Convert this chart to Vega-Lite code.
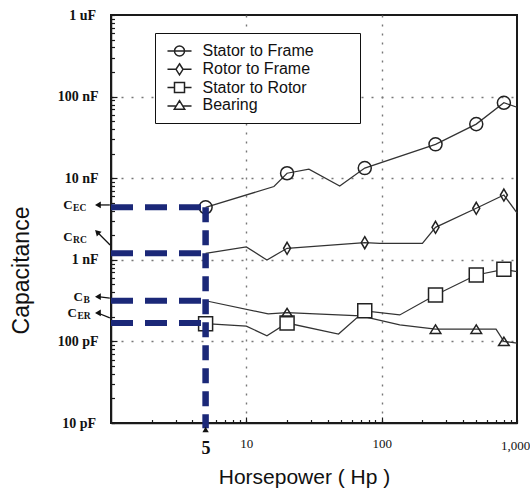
{
  "$schema": "https://vega.github.io/schema/vega-lite/v6.json",
  "width": 406,
  "height": 408,
  "autosize": {"type": "none"},
  "padding": {"left": 111, "top": 15, "right": 13, "bottom": 66},
  "background": "white",
  "config": {
    "view": {"stroke": "#1a1a1a", "strokeWidth": 2},
    "axis": {
      "domainColor": "#1a1a1a",
      "domainWidth": 1.5,
      "tickColor": "#1a1a1a",
      "tickWidth": 1.2,
      "labelColor": "#111111",
      "titleColor": "#111111",
      "gridColor": "#777777",
      "gridWidth": 1.4
    }
  },
  "resolve": {"scale": {"shape": "independent"}, "legend": {"shape": "independent"}},
  "datasets": {
    "series": [
      {"series": "Stator to Frame", "hp": 5, "pF": 4400, "m": 1},
      {"series": "Stator to Frame", "hp": 16, "pF": 7900, "m": 0},
      {"series": "Stator to Frame", "hp": 20, "pF": 11500, "m": 1},
      {"series": "Stator to Frame", "hp": 29, "pF": 12900, "m": 0},
      {"series": "Stator to Frame", "hp": 49, "pF": 8000, "m": 0},
      {"series": "Stator to Frame", "hp": 75, "pF": 13300, "m": 1},
      {"series": "Stator to Frame", "hp": 250, "pF": 26000, "m": 1},
      {"series": "Stator to Frame", "hp": 500, "pF": 46000, "m": 1},
      {"series": "Stator to Frame", "hp": 800, "pF": 84000, "m": 1},
      {"series": "Stator to Frame", "hp": 1000, "pF": 74000, "m": 0},
      {"series": "Rotor to Frame", "hp": 5, "pF": 1200, "m": 0},
      {"series": "Rotor to Frame", "hp": 10, "pF": 1435, "m": 0},
      {"series": "Rotor to Frame", "hp": 14.2, "pF": 995, "m": 0},
      {"series": "Rotor to Frame", "hp": 20, "pF": 1384, "m": 1},
      {"series": "Rotor to Frame", "hp": 75, "pF": 1620, "m": 1},
      {"series": "Rotor to Frame", "hp": 97, "pF": 1590, "m": 0},
      {"series": "Rotor to Frame", "hp": 200, "pF": 1590, "m": 0},
      {"series": "Rotor to Frame", "hp": 250, "pF": 2500, "m": 1},
      {"series": "Rotor to Frame", "hp": 500, "pF": 4280, "m": 1},
      {"series": "Rotor to Frame", "hp": 800, "pF": 6220, "m": 1},
      {"series": "Rotor to Frame", "hp": 1000, "pF": 3750, "m": 0},
      {"series": "Stator to Rotor", "hp": 5, "pF": 165, "m": 1},
      {"series": "Stator to Rotor", "hp": 10, "pF": 154, "m": 0},
      {"series": "Stator to Rotor", "hp": 14.2, "pF": 117, "m": 0},
      {"series": "Stator to Rotor", "hp": 20, "pF": 168, "m": 1},
      {"series": "Stator to Rotor", "hp": 48, "pF": 123, "m": 0},
      {"series": "Stator to Rotor", "hp": 75, "pF": 237, "m": 1},
      {"series": "Stator to Rotor", "hp": 136, "pF": 211, "m": 0},
      {"series": "Stator to Rotor", "hp": 250, "pF": 370, "m": 1},
      {"series": "Stator to Rotor", "hp": 500, "pF": 651, "m": 1},
      {"series": "Stator to Rotor", "hp": 800, "pF": 765, "m": 1},
      {"series": "Stator to Rotor", "hp": 1000, "pF": 715, "m": 0},
      {"series": "Bearing", "hp": 5, "pF": 315, "m": 0},
      {"series": "Bearing", "hp": 14.5, "pF": 217, "m": 0},
      {"series": "Bearing", "hp": 20, "pF": 225, "m": 1},
      {"series": "Bearing", "hp": 70, "pF": 205, "m": 0},
      {"series": "Bearing", "hp": 136, "pF": 159, "m": 0},
      {"series": "Bearing", "hp": 250, "pF": 141, "m": 1},
      {"series": "Bearing", "hp": 500, "pF": 141, "m": 1},
      {"series": "Bearing", "hp": 700, "pF": 141, "m": 0},
      {"series": "Bearing", "hp": 800, "pF": 100, "m": 1},
      {"series": "Bearing", "hp": 1000, "pF": 95, "m": 0}
    ],
    "guides": [
      {"level": "EC", "hp": 1, "hp2": 5, "pF": 4400},
      {"level": "RC", "hp": 1, "hp2": 5, "pF": 1200},
      {"level": "B", "hp": 1, "hp2": 5, "pF": 315},
      {"level": "ER", "hp": 1, "hp2": 5, "pF": 168}
    ],
    "drop": [{"hp": 5, "pF": 4400, "pF2": 8.6}],
    "callouts": [
      {"sub": "EC", "hp": 0.8, "pF": 4700, "hp2": 0.98, "pF2": 4700, "lhp": 0.52, "lpF": 4700},
      {"sub": "RC", "hp": 0.79, "pF": 2190, "hp2": 0.985, "pF2": 1520, "lhp": 0.52, "lpF": 1900},
      {"sub": "B", "hp": 0.8, "pF": 353, "hp2": 0.98, "pF2": 340, "lhp": 0.62, "lpF": 350},
      {"sub": "ER", "hp": 0.8, "pF": 223, "hp2": 0.98, "pF2": 194, "lhp": 0.56, "lpF": 223}
    ],
    "tip": [{"hp": 5, "pF": 8.3}]
  },
  "layer": [
    {
      "data": {"name": "series"},
      "mark": {"type": "line", "stroke": "#333333", "strokeWidth": 1.25},
      "encoding": {
        "x": {
          "field": "hp",
          "type": "quantitative",
          "scale": {"type": "log", "domain": [1, 1000]},
          "axis": {
            "values": [2, 3, 4, 5, 6, 7, 8, 9, 10, 20, 30, 40, 50, 60, 70, 80, 90, 100, 200, 300, 400, 500, 600, 700, 800, 900, 1000],
            "labelExpr": "datum.value == 10 ? '10' : datum.value == 100 ? '100' : datum.value == 1000 ? '1,000' : datum.value == 5 ? '5' : ''",
            "labelFont": "Liberation Serif",
            "labelFontSize": {"condition": {"test": "datum.value == 5", "value": 18}, "value": 13},
            "labelFontWeight": {"condition": {"test": "datum.value == 5", "value": "bold"}, "value": "normal"},
            "labelOffset": {"condition": {"test": "datum.value == 1000", "value": -2}, "value": 0},
            "labelPadding": 20,
            "labelFlush": false,
            "labelOverlap": false,
            "tickSize": {"condition": {"test": "datum.value == 10 || datum.value == 100", "value": -6}, "value": -3.5},
            "grid": true,
            "gridDash": [2, 7],
            "gridOpacity": {"condition": {"test": "datum.value == 10 || datum.value == 100", "value": 1}, "value": 0},
            "title": "Horsepower ( Hp )",
            "titleFont": "Liberation Sans",
            "titleFontSize": 21,
            "titleFontWeight": "normal",
            "titleX": 193,
            "titleY": 54,
            "titleBaseline": "middle",
            "titleAlign": "center"
          }
        },
        "y": {
          "field": "pF",
          "type": "quantitative",
          "scale": {"type": "log", "domain": [10, 1000000]},
          "axis": {
            "values": [10, 20, 30, 40, 50, 60, 70, 80, 90, 100, 200, 300, 400, 500, 600, 700, 800, 900, 1000, 2000, 3000, 4000, 5000, 6000, 7000, 8000, 9000, 10000, 20000, 30000, 40000, 50000, 60000, 70000, 80000, 90000, 100000, 200000, 300000, 400000, 500000, 600000, 700000, 800000, 900000, 1000000],
            "labelExpr": "datum.value == 1000000 ? '1 uF' : datum.value == 100000 ? '100 nF' : datum.value == 10000 ? '10 nF' : datum.value == 1000 ? '1 nF' : datum.value == 100 ? '100 pF' : datum.value == 10 ? '10 pF' : ''",
            "labelFont": "Liberation Serif",
            "labelFontSize": 14,
            "labelFontWeight": "bold",
            "labelPadding": 19,
            "labelFlush": false,
            "labelOverlap": false,
            "tickSize": {"condition": {"test": "datum.value == 100 || datum.value == 1000 || datum.value == 10000 || datum.value == 100000", "value": -6}, "value": -3.5},
            "grid": true,
            "gridDash": [2, 8],
            "gridOpacity": {"condition": {"test": "datum.value == 100 || datum.value == 1000 || datum.value == 10000 || datum.value == 100000", "value": 1}, "value": 0},
            "title": "Capacitance",
            "titleFont": "Liberation Sans",
            "titleFontSize": 23,
            "titleFontWeight": "normal",
            "titleAngle": -90,
            "titleX": -90,
            "titleY": 255,
            "titleBaseline": "middle",
            "titleAlign": "center"
          }
        },
        "detail": {"field": "series"}
      }
    },
    {
      "data": {"name": "series"},
      "transform": [{"filter": "datum.m == 1"}],
      "mark": {"type": "point", "size": 196, "stroke": "#222222", "strokeWidth": 1.5, "opacity": 1},
      "encoding": {
        "x": {"field": "hp", "type": "quantitative"},
        "y": {"field": "pF", "type": "quantitative"},
        "fill": {"condition": {"test": "datum.series === 'Stator to Rotor'", "value": "white"}, "value": "transparent"},
        "shape": {
          "field": "series",
          "type": "nominal",
          "scale": {
            "domain": ["Stator to Frame", "Rotor to Frame", "Stator to Rotor", "Bearing"],
            "range": [
              "M-0.93,0A0.93,0.93,0,1,1,0.93,0A0.93,0.93,0,1,1,-0.93,0Z",
              "M0,-0.86L0.5,0L0,0.86L-0.5,0Z",
              "M-1,-1H1V1H-1Z",
              "M0,-0.62L0.76,0.6L-0.76,0.6Z"
            ]
          },
          "legend": null
        }
      }
    },
    {
      "data": {"name": "series"},
      "transform": [{"filter": "false"}],
      "mark": {"type": "point", "size": 169, "stroke": "#222222", "strokeWidth": 1.5, "fill": "transparent", "opacity": 1},
      "encoding": {
        "x": {"field": "hp", "type": "quantitative"},
        "y": {"field": "pF", "type": "quantitative"},
        "shape": {
          "field": "series",
          "type": "nominal",
          "scale": {
            "domain": ["Stator to Frame", "Rotor to Frame", "Stator to Rotor", "Bearing"],
            "range": [
              "M-1.85,0H1.85M-0.77,0A0.77,0.77,0,1,1,0.77,0A0.77,0.77,0,1,1,-0.77,0Z",
              "M-1.85,0H-0.54M0.54,0H1.85M0,-0.85L0.54,0L0,0.85L-0.54,0Z",
              "M-1.85,0H-0.77M0.77,0H1.85M-0.77,-0.77H0.77V0.77H-0.77Z",
              "M-1.85,0.15H-0.45M0.45,0.15H1.85M0,-0.65L0.8,0.65L-0.8,0.65Z"
            ]
          },
          "legend": {
            "orient": "none",
            "legendX": 44,
            "legendY": 18,
            "title": null,
            "padding": 10,
            "rowPadding": 0.3,
            "symbolSize": 169,
            "symbolStrokeWidth": 1.5,
            "symbolStrokeColor": "#222222",
            "symbolFillColor": "transparent",
            "symbolOffset": 6.5,
            "labelFont": "Liberation Sans",
            "labelFontSize": 16,
            "labelColor": "#111111",
            "labelOffset": 15,
            "labelLimit": 400,
            "labelExpr": "datum.label + '\u2800\u2800\u2800'",
            "strokeColor": "#111111",
            "fillColor": "white",
            "encode": {
              "legend": {"update": {"strokeWidth": {"value": 2}}}
            }
          }
        }
      }
    },
    {
      "data": {"name": "guides"},
      "mark": {"type": "rule", "stroke": "#1b2878", "strokeWidth": 6, "strokeDash": [22, 12]},
      "encoding": {
        "x": {"field": "hp", "type": "quantitative"},
        "x2": {"field": "hp2"},
        "y": {"field": "pF", "type": "quantitative"}
      }
    },
    {
      "data": {"name": "drop"},
      "mark": {"type": "rule", "stroke": "#1b2878", "strokeWidth": 6.5, "strokeDash": [15, 8]},
      "encoding": {
        "x": {"field": "hp", "type": "quantitative"},
        "y": {"field": "pF", "type": "quantitative"},
        "y2": {"field": "pF2"}
      }
    },
    {
      "data": {"name": "callouts"},
      "mark": {"type": "rule", "stroke": "#111111", "strokeWidth": 1.3},
      "encoding": {
        "x": {"field": "hp", "type": "quantitative"},
        "x2": {"field": "hp2"},
        "y": {"field": "pF", "type": "quantitative"},
        "y2": {"field": "pF2"}
      }
    },
    {
      "data": {"name": "callouts"},
      "mark": {"type": "point", "shape": "triangle-left", "size": 45, "filled": true, "fill": "#111111", "opacity": 1},
      "encoding": {
        "x": {"field": "hp", "type": "quantitative"},
        "y": {"field": "pF", "type": "quantitative"},
        "angle": {"condition": {"test": "datum.sub === 'RC'", "value": 45}, "value": 0}
      }
    },
    {
      "data": {"name": "callouts"},
      "mark": {"type": "text", "text": "C", "font": "Liberation Serif", "fontSize": 13, "fontWeight": "bold", "align": "right", "baseline": "middle", "color": "#111111"},
      "encoding": {
        "x": {"field": "lhp", "type": "quantitative", "title": "Horsepower ( Hp )"},
        "y": {"field": "lpF", "type": "quantitative", "title": "Capacitance"}
      }
    },
    {
      "data": {"name": "callouts"},
      "mark": {"type": "text", "font": "Liberation Serif", "fontSize": 9.5, "fontWeight": "bold", "align": "left", "baseline": "middle", "dx": 0.5, "dy": 3, "color": "#111111"},
      "encoding": {
        "x": {"field": "lhp", "type": "quantitative", "title": "Horsepower ( Hp )"},
        "y": {"field": "lpF", "type": "quantitative", "title": "Capacitance"},
        "text": {"field": "sub"}
      }
    },
    {
      "data": {"name": "tip"},
      "mark": {"type": "point", "shape": "triangle-up", "size": 40, "filled": true, "fill": "#111111", "opacity": 1},
      "encoding": {
        "x": {"field": "hp", "type": "quantitative"},
        "y": {"field": "pF", "type": "quantitative"}
      }
    }
  ]
}
